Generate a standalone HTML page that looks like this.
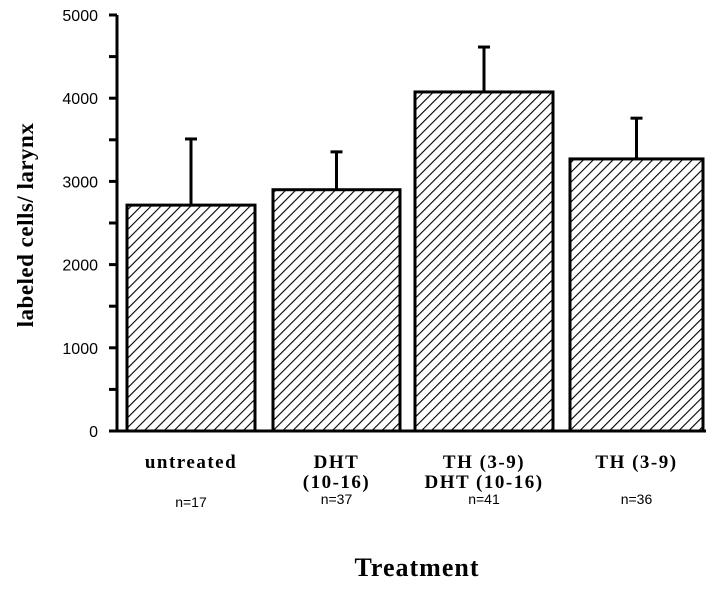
<!DOCTYPE html>
<html><head><style>
body{margin:0;background:#fff;}
svg text{fill:#000}
</style></head><body>
<svg width="726" height="585" viewBox="0 0 726 585" xmlns="http://www.w3.org/2000/svg">
<defs>
<pattern id="hatch" patternUnits="userSpaceOnUse" width="7" height="7" patternTransform="rotate(45)">
<rect width="7" height="7" fill="#fff"/>
<line x1="0" y1="0" x2="0" y2="7" stroke="#000" stroke-width="2.2"/>
</pattern>
</defs>
<g id="plot"></g>
<text transform="translate(33,225) rotate(-90)" text-anchor="middle" font-family="Liberation Serif, serif" font-weight="bold" font-size="23" letter-spacing="0.5">labeled cells/ larynx</text>
<text x="417" y="576" text-anchor="middle" font-family="Liberation Serif, serif" font-weight="bold" font-size="26" letter-spacing="1">Treatment</text>
</svg>
<script>
const categories=[["untreated"],["DHT","(10-16)"],["TH (3-9)","DHT (10-16)"],["TH (3-9)"]];
const values=[2715,2900,4075,3270];
const errors=[795,455,540,490];
const nLabels=["n=17","n=37","n=41","n=36"];
const yTicks=[0,1000,2000,3000,4000,5000];
const NS="http://www.w3.org/2000/svg";
const g=document.getElementById('plot');
const x0=117,y0=431,yTop=15,ymax=5000;
const barL=[127,273,415,570],barW=[128,127,138,133];
function y(v){return y0-(v/ymax)*(y0-yTop);}
function mk(t,a){const e=document.createElementNS(NS,t);for(const k in a)e.setAttribute(k,a[k]);g.appendChild(e);return e;}
values.forEach((v,i)=>{
 const cx=barL[i]+barW[i]/2;
 let e=mk('line',{x1:cx,x2:cx,y1:y(v),y2:y(v+errors[i]),stroke:'#000','stroke-width':3});
 
 
 e=mk('line',{x1:cx-6,x2:cx+6,y1:y(v+errors[i]),y2:y(v+errors[i]),stroke:'#000','stroke-width':3});
 
 
 e=mk('rect',{x:barL[i],y:y(v),width:barW[i],height:y0-y(v),fill:'url(#hatch)',stroke:'#000','stroke-width':3});
 
 
 categories[i].forEach((s,j)=>{
  e=mk('text',{x:cx,y:468+j*20,'text-anchor':'middle','font-family':'Liberation Serif, serif','font-weight':'bold','font-size':19,'letter-spacing':1.5});
  e.textContent=s;
  
  
 });
 e=mk('text',{x:cx,y:i==0?507:504,'text-anchor':'middle','font-family':'Liberation Sans, sans-serif','font-size':14});
 e.textContent=nLabels[i];
 
 
});
let ax=mk('line',{x1:x0,x2:x0,y1:yTop,y2:y0,stroke:'#000','stroke-width':3});


ax=mk('line',{x1:x0,x2:706,y1:y0,y2:y0,stroke:'#000','stroke-width':3});


for(let v=0;v<=ymax;v+=500){mk('line',{x1:x0-8,x2:x0,y1:y(v),y2:y(v),stroke:'#000','stroke-width':3});}
yTicks.forEach(v=>{
 const e=mk('text',{x:98,y:y(v)+6,'text-anchor':'end','font-family':'Liberation Sans, sans-serif','font-size':16});
 e.textContent=v;
 
 
});
</script>
</body></html>
